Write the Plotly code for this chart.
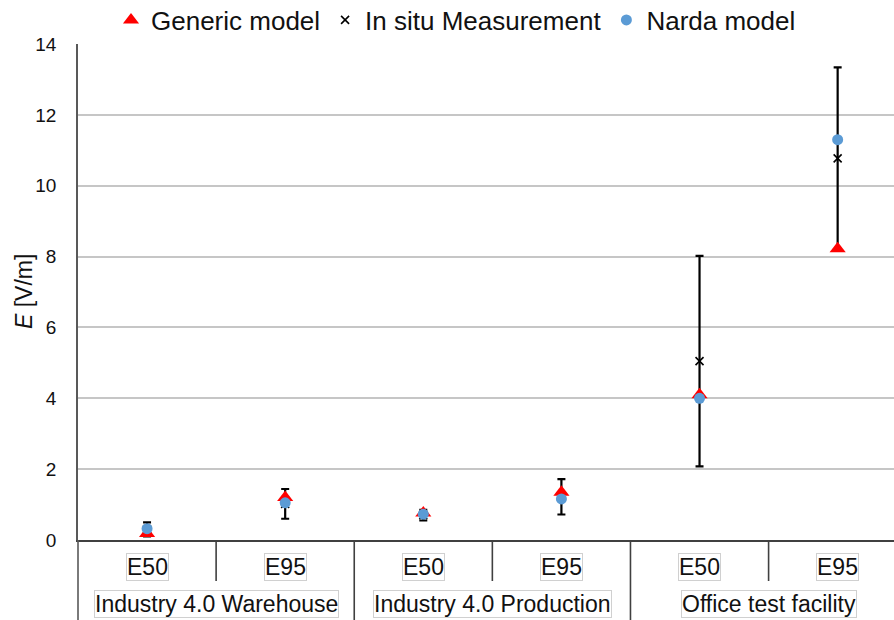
import plotly.graph_objects as go

# Categories: statistic level within each environment
groups = ["Industry 4.0 Warehouse", "Industry 4.0 Warehouse",
          "Industry 4.0 Production", "Industry 4.0 Production",
          "Office test facility", "Office test facility"]
levels = ["E50", "E95", "E50", "E95", "E50", "E95"]

# Field strength values in V/m
generic_model = [0.18, 1.20, 0.76, 1.35, 4.10, 8.22]
in_situ = [0.30, 1.02, 0.70, 1.22, 5.05, 10.77]
in_situ_err = [0.20, 0.42, 0.15, 0.50, 2.97, 2.57]
narda_model = [0.32, 1.05, 0.73, 1.16, 4.00, 11.30]

y_ticks = [0, 2, 4, 6, 8, 10, 12, 14]

FONT = "Liberation Sans, Arial, sans-serif"
TXT = "#111111"
idx = list(range(len(levels)))

fig = go.Figure()

fig.add_trace(go.Scatter(
    x=idx, y=in_situ, mode="markers", name="In situ Measurement",
    legendrank=2, cliponaxis=False,
    marker=dict(symbol="x-thin", size=8, color="black",
                line=dict(color="black", width=1.6)),
    error_y=dict(type="data", array=in_situ_err, visible=True,
                 color="black", thickness=2.2, width=4),
))
fig.add_trace(go.Scatter(
    x=idx, y=generic_model, mode="markers", name="Generic model",
    legendrank=1, cliponaxis=False,
    marker=dict(symbol="triangle-up", size=14, color="#ff0000"),
))
fig.add_trace(go.Scatter(
    x=idx, y=narda_model, mode="markers", name="Narda model",
    legendrank=3, cliponaxis=False,
    marker=dict(symbol="circle", size=11, color="#5b9bd5"),
))

plot_w = 816.0
plot_h = 496.0
shapes = []
annotations = []

# axis line continuing through the category label area
shapes.append(dict(type="line", xref="paper", yref="paper",
                   x0=0, x1=0, y0=0, y1=-80 / plot_h,
                   line=dict(color="#595959", width=1.6)))

# dividers between levels (short) and between groups (long)
for i in range(len(levels) - 1):
    same_group = groups[i] == groups[i + 1]
    depth = 41 if same_group else 80
    shapes.append(dict(type="line", xref="x", yref="paper",
                       x0=i + 0.5, x1=i + 0.5, y0=0, y1=-depth / plot_h,
                       line=dict(color="#404040", width=1.6)))

# level labels
for i, lab in enumerate(levels):
    annotations.append(dict(
        x=i, y=-27 / plot_h, xref="x", yref="paper", text=lab,
        showarrow=False, xanchor="center", yanchor="middle",
        font=dict(family=FONT, size=23, color=TXT),
        bordercolor="#d0d0d0", borderwidth=1, borderpad=0,
    ))

# group labels
seen = []
for g in groups:
    if g not in seen:
        seen.append(g)
for g in seen:
    members = [i for i, gg in enumerate(groups) if gg == g]
    center = sum(members) / len(members)
    annotations.append(dict(
        x=center, y=-64 / plot_h, xref="x", yref="paper", text=g,
        showarrow=False, xanchor="center", yanchor="middle",
        font=dict(family=FONT, size=23, color=TXT),
        bordercolor="#d0d0d0", borderwidth=1, borderpad=0,
    ))

# y-axis title
annotations.append(dict(
    x=-54 / plot_w, y=0.5, xref="paper", yref="paper",
    text="<i>E</i> [V/m]", textangle=-90, showarrow=False,
    xanchor="center", yanchor="middle",
    font=dict(family=FONT, size=23, color=TXT),
))

fig.update_layout(
    width=894, height=620,
    margin=dict(l=78, r=0, t=44, b=80, autoexpand=False),
    plot_bgcolor="white", paper_bgcolor="white",
    font=dict(family=FONT, color=TXT),
    showlegend=True,
    legend=dict(orientation="h", x=456 / 894, xref="container",
                xanchor="center", y=1 - 20 / 620, yref="container",
                yanchor="middle",
                font=dict(family=FONT, size=26, color=TXT),
                itemwidth=30, bgcolor="rgba(0,0,0,0)"),
    shapes=shapes,
    annotations=annotations,
)

fig.update_xaxes(
    range=[-0.5, 5.408], showticklabels=False, showgrid=False,
    zeroline=False, showline=True, linecolor="#404040", linewidth=2,
    ticks="",
)
fig.update_yaxes(
    range=[0, 14], tickvals=y_ticks, showgrid=True, gridcolor="#c6c6c6",
    gridwidth=2, zeroline=False, showline=True, linecolor="#595959",
    linewidth=1.6, ticks="", ticklabelstandoff=16,
    tickfont=dict(family=FONT, size=19, color=TXT),
)

fig.write_html("out.html")
